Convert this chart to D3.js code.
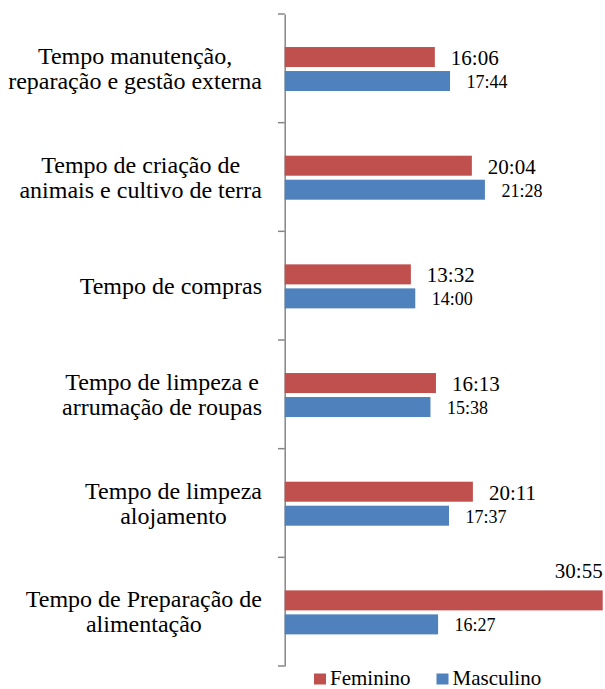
<!DOCTYPE html>
<html>
<head>
<meta charset="utf-8">
<script src="https://cdn.jsdelivr.net/npm/d3@7"></script>
<style>
  body { margin: 0; background: #fff; }
</style>
</head>
<body>
<div id="chart"></div>
<script>
// categories, top to bottom (each entry = lines of the label)
var categories = [
  ["Tempo manutenção,", "reparação e gestão externa"],
  ["Tempo de criação de", "animais e cultivo de terra"],
  ["Tempo de compras"],
  ["Tempo de limpeza e", "arrumação de roupas"],
  ["Tempo de limpeza", "alojamento"],
  ["Tempo de Preparação de", "alimentação"]
];
var series = ["Feminino", "Masculino"];
var colors = ["#C0504D", "#4F81BD"];

// bar lengths in minutes
var feminino = [16.1, 20.07, 13.53, 16.22, 20.18, 34.1];
var masculino = [17.73, 21.47, 14.0, 15.63, 17.62, 16.45];

// data labels as printed
var feminino_labels = ["16:06", "20:04", "13:32", "16:13", "20:11", "30:55"];
var masculino_labels = ["17:44", "21:28", "14:00", "15:38", "17:37", "16:27"];

var font = "'Liberation Serif', 'Times New Roman', Times, serif";
var svg_width = 605;
var svg_height = 689;

var svg = d3.select("#chart").append("svg")
  .attr("width", svg_width)
  .attr("height", svg_height)
  .attr("font-family", font);

var y_scale = d3.scaleBand()
  .domain(d3.range(categories.length))
  .range([14, 666]);

var sub_scale = d3.scaleBand()
  .domain(series)
  .range([0, 44])
  .paddingInner(4 / 24);

var x_scale = d3.scaleLinear()
  .domain([0, 34.1])
  .range([284.7, 602.7]);

// category axis on the left
var y_axis = d3.axisLeft(y_scale)
  .tickValues([])
  .tickSizeOuter(0);

var axis_g = svg.append("g")
  .attr("transform", "translate(284.7,0)")
  .call(y_axis);
axis_g.select(".domain").attr("stroke", "#868686").attr("stroke-width", 1.5);

// tick marks between categories
var boundaries = d3.range(categories.length + 1).map(function(i) {
  return i < categories.length ? y_scale(i) : y_scale.range()[1];
});
svg.append("g").selectAll("line")
  .data(boundaries)
  .enter().append("line")
  .attr("x1", 278).attr("x2", 284.7)
  .attr("y1", function(d) { return d; })
  .attr("y2", function(d) { return d; })
  .attr("stroke", "#868686")
  .attr("stroke-width", 1.5);

// category labels (centered block, right edge near axis)
var label_right = 262;
var line_h = 25;
var measure = svg.append("text").attr("font-size", 24).attr("font-family", font);
categories.forEach(function(lines, i) {
  var maxW = 0;
  lines.forEach(function(l) {
    measure.text(l);
    maxW = Math.max(maxW, measure.node().getComputedTextLength());
  });
  var cx = label_right - maxW / 2;
  var cy = y_scale(i) + y_scale.bandwidth() / 2;
  var t = svg.append("text")
    .attr("font-family", font)
    .attr("font-size", 24)
    .attr("fill", "#000")
    .attr("text-anchor", "middle");
  lines.forEach(function(l, j) {
    t.append("tspan")
      .attr("x", cx)
      .attr("y", cy + 8 + (j - (lines.length - 1) / 2) * line_h)
      .text(l);
  });
});
measure.remove();

var rows = categories.map(function(c, i) {
  return { i: i, values: [feminino[i], masculino[i]], labels: [feminino_labels[i], masculino_labels[i]] };
});

var groups = svg.append("g").selectAll("g")
  .data(rows)
  .enter().append("g")
  .attr("transform", function(d) {
    return "translate(0," + (y_scale(d.i) + (y_scale.bandwidth() - 44) / 2 + 0.7) + ")";
  });

series.forEach(function(s, k) {
  groups.append("rect")
    .attr("x", x_scale(0))
    .attr("y", sub_scale(s))
    .attr("width", function(d) { return x_scale(d.values[k]) - x_scale(0); })
    .attr("height", sub_scale.bandwidth())
    .attr("fill", colors[k]);
});

// data labels
groups.append("text")
  .attr("font-family", font)
  .attr("font-size", 21)
  .attr("fill", "#000")
  .attr("text-anchor", function(d) { return d.i === 5 ? "end" : "start"; })
  .attr("x", function(d) { return d.i === 5 ? x_scale(d.values[0]) : x_scale(d.values[0]) + 16; })
  .attr("y", function(d) { return d.i === 5 ? sub_scale("Feminino") - 12 : sub_scale("Feminino") + sub_scale.bandwidth() - 2; })
  .text(function(d) { return d.labels[0]; });

groups.append("text")
  .attr("font-family", font)
  .attr("font-size", 18)
  .attr("fill", "#000")
  .attr("x", function(d) { return x_scale(d.values[1]) + 16.5; })
  .attr("y", function(d) { return sub_scale("Masculino") + sub_scale.bandwidth() - 3; })
  .text(function(d) { return d.labels[1]; });

// legend
var legend_x = [314, 436.5];
var legend = svg.append("g").selectAll("g")
  .data(series)
  .enter().append("g")
  .attr("transform", function(d, i) { return "translate(" + legend_x[i] + ",673.5)"; });
legend.append("rect")
  .attr("width", 12).attr("height", 11)
  .attr("fill", function(d, i) { return colors[i]; });
legend.append("text")
  .attr("font-family", font)
  .attr("font-size", 21)
  .attr("fill", "#000")
  .attr("x", 16).attr("y", 11)
  .text(function(d) { return d; });
</script>
</body>
</html>
